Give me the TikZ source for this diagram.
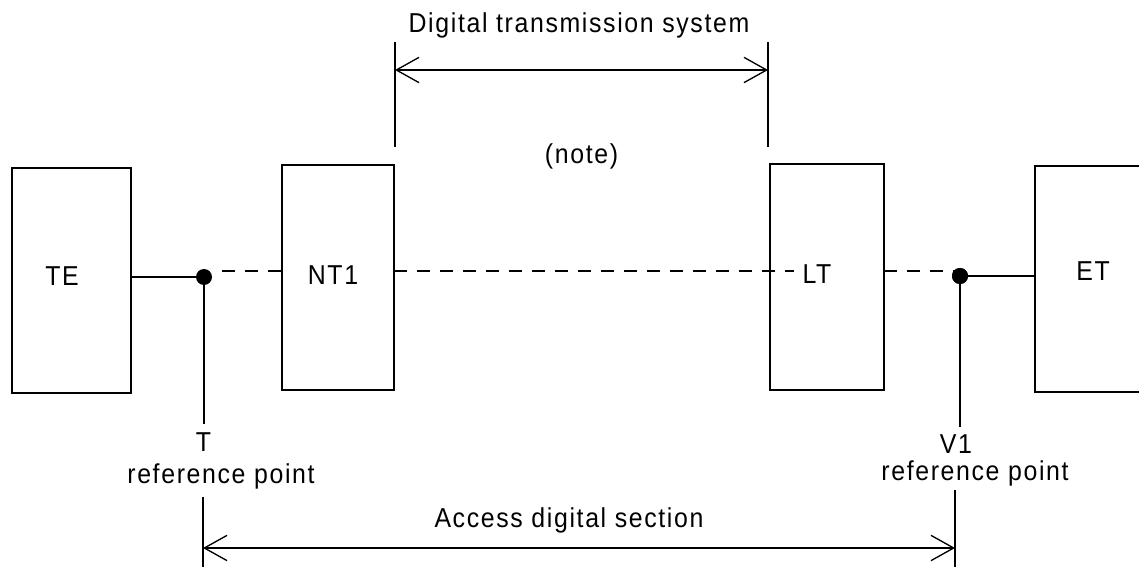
\documentclass[tikz,border=0pt]{standalone}
\usepackage{fontspec}
\setmainfont{Liberation Sans}[FakeStretch=0.91,LetterSpace=6]
\usetikzlibrary{arrows.meta}
\begin{document}
\begin{tikzpicture}[x=0.75pt,y=-0.75pt,
  box/.style={draw, rectangle, line width=1.5pt, inner sep=0pt, outer sep=0pt},
  lbl/.style={font=\fontsize{20.5}{24}\selectfont, inner sep=0pt, anchor=base},
  wire/.style={line width=1.5pt},
  dashline/.style={line width=1.2pt, dash pattern=on 9.75pt off 7.5pt},
  dotnode/.style={circle, fill=black, inner sep=0pt, minimum size=12pt},
  dimarrow/.style={line width=1.5pt,
    {Straight Barb[length=17pt,width=19pt,line width=1pt]}-{Straight Barb[length=17pt,width=19pt,line width=1pt]}}]
\useasboundingbox (0,0) rectangle (1139,567);

% boxes
\node[box, minimum width=89.25pt, minimum height=168.75pt] (TE)  at (71.5,280.5) {};
\node[box, minimum width=84pt,    minimum height=168.75pt] (NT1) at (338,277.5) {};
\node[box, minimum width=85.5pt,  minimum height=169.5pt]  (LT)  at (827,277) {};
\node[box, minimum width=93.75pt, minimum height=169.5pt]  (ET)  at (1097.5,279) {};

% box labels
\node[lbl] (teL)  at (62,285)   {TE};
\node[lbl] (ntL)  at (333,284)  {NT1};
\node[lbl] (ltL)  at (817,283)  {LT};
\node[lbl] (etL)  at (1093,280) {ET};

% reference point dots
\node[dotnode] (Tdot) at (204,277) {};
\node[dotnode] (Vdot) at (960,276) {};
\coordinate (dy) at (0,271);

% connections
\draw[wire] (TE.east |- Tdot) -- (Tdot);
\draw[dashline, dash phase=9.75pt] (Tdot.east |- dy) -- (NT1.west |- dy);
\draw[dashline] (NT1.east |- dy) -- ([xshift=-6pt]ltL.west |- dy);
\draw[dashline] (LT.east |- dy) -- (Vdot.east |- dy);
\node[dotnode] at (Vdot) {};
\draw[wire] (Vdot) -- (ET.west |- Vdot);

% reference point labels
\node[lbl] (Tlab)  at (203.5,451) {T};
\node[lbl] (Tref)  at (221,483)   {reference point};
\node[lbl] (Vlab)  at (956,453)   {V1};
\node[lbl] (Vref)  at (975,480)   {reference point};

\coordinate (Tend) at (204,424);
\coordinate (Vend) at (960,427);
\draw[wire] (Tdot) -- (Tend);
\draw[wire] (Vdot) -- (Vend);

% access digital section
\coordinate (Ltop) at (203,497);
\coordinate (Lbot) at (203,570);
\coordinate (Rtop) at (955,490);
\coordinate (Rbot) at (955,570);
\draw[wire] (Ltop) -- (Lbot);
\draw[wire] (Rtop) -- (Rbot);
\coordinate (Aleft) at (203,548);
\coordinate (Aright) at (955,548);
\draw[dimarrow] (Aleft) -- (Aright);
\node[lbl] (acc) at (569,527) {Access digital section};

% digital transmission system
\coordinate (DLtop) at (395,42);
\coordinate (DLbot) at (395,147);
\coordinate (DRtop) at (768,42);
\coordinate (DRbot) at (768,147);
\draw[wire] (DLtop) -- (DLbot);
\draw[wire] (DRtop) -- (DRbot);
\coordinate (Dleft) at (395,70);
\coordinate (Dright) at (768,70);
\draw[dimarrow] (Dleft) -- (Dright);
\node[lbl] (dts) at (579,33) {Digital transmission system};
\node[lbl] (note) at (581.5,163) {(note)};
\end{tikzpicture}
\end{document}
